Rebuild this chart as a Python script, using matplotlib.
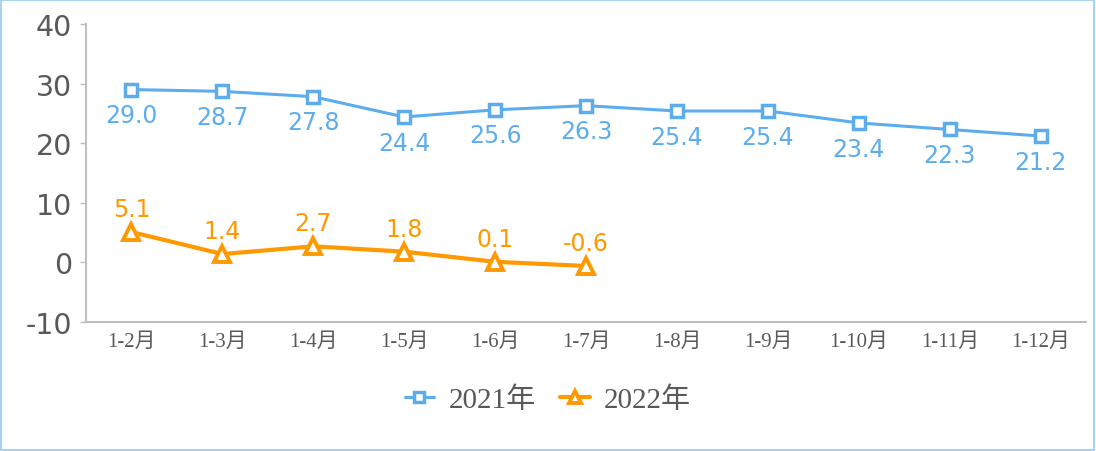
import matplotlib.pyplot as plt
from matplotlib.patches import Rectangle

plt.rcParams['axes.unicode_minus'] = False

months = ['1-2月', '1-3月', '1-4月', '1-5月', '1-6月', '1-7月',
          '1-8月', '1-9月', '1-10月', '1-11月', '1-12月']
y2021 = [29.0, 28.7, 27.8, 24.4, 25.6, 26.3, 25.4, 25.4, 23.4, 22.3, 21.2]
y2022 = [5.1, 1.4, 2.7, 1.8, 0.1, -0.6]
yticks = [-10, 0, 10, 20, 30, 40]

blue = '#5DADEC'
orange = '#FF9900'
gray = '#595959'
serif_cjk = ['Liberation Serif', 'Noto Sans CJK SC']

fig = plt.figure(figsize=(10.96, 4.52), dpi=100)
ax = fig.add_axes([0.0785, 0.2854, 0.9125, 0.6593])

x1 = list(range(len(y2021)))
x2 = list(range(len(y2022)))
ax.plot(x1, y2021, color=blue, lw=2.2, marker='s', ms=8, mfc='white',
        mec=blue, mew=2.5, label='2021年', zorder=3, solid_capstyle='round')
ax.plot(x2, y2022, color=orange, lw=3, marker='^', ms=11, mfc='white',
        mec=orange, mew=2.8, label='2022年', zorder=3, solid_capstyle='round')

# data labels: 2021 below the points, 2022 above
for x, v in zip(x1, y2021):
    ax.annotate(f'{v:.1f}', (x, v), xytext=(0, -23.5), textcoords='offset points',
                ha='center', va='baseline', color=blue, fontsize=17)
for x, v in zip(x2, y2022):
    ax.annotate(f'{v:.1f}', (x, v), xytext=(0, 11.5), textcoords='offset points',
                ha='center', va='baseline', color=orange, fontsize=17)

ax.set_xlim(-0.5, len(months) - 0.5)
ax.set_ylim(-10, 40)
ax.set_yticks(yticks)
ax.set_xticks(x1)
ax.set_xticklabels(months, family=serif_cjk, fontsize=15, color=gray)
ax.tick_params(axis='x', length=0, pad=7)
ax.tick_params(axis='y', length=4, width=1, color='#BFBFBF', labelsize=20.5,
               labelcolor=gray, pad=6)
for s in ['top', 'right']:
    ax.spines[s].set_visible(False)
for s in ['left', 'bottom']:
    ax.spines[s].set_color('#BFBFBF')
    ax.spines[s].set_linewidth(1.5)

leg = fig.legend(loc='center', bbox_to_anchor=(0.5, 0.113), ncol=2, frameon=False,
                 prop={'family': serif_cjk, 'size': 21}, labelcolor=gray,
                 handlelength=1.0, columnspacing=0.85, handletextpad=0.5,
                 markerscale=0.85)

fig.patches.append(Rectangle((0.001, 0.002), 0.997, 0.995, transform=fig.transFigure,
                             fill=False, edgecolor='#A8D2F5', lw=1.5))

fig.savefig('out.png', dpi=100)
